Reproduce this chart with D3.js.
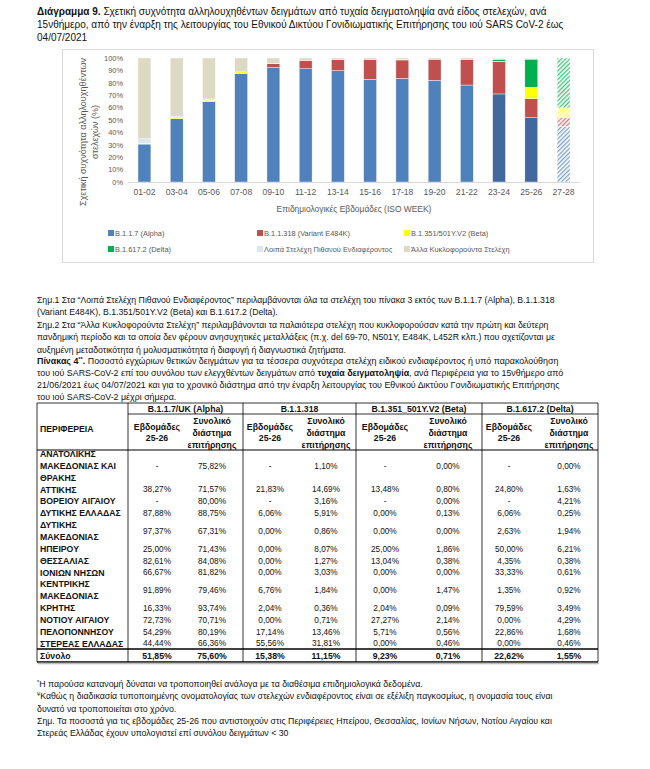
<!DOCTYPE html>
<html><head><meta charset="utf-8">
<script src="https://cdn.jsdelivr.net/npm/d3@7"></script>
<style>body{margin:0;background:#fff}</style>
</head><body>
<svg id="c" width="650" height="769"></svg>
<script>
// ---------------- DATA ----------------
const weeks = ["01-02","03-04","05-06","07-08","09-10","11-12","13-14","15-16","17-18","19-20","21-22","23-24","25-26","27-28"];
const seriesNames = ["B.1.1.7 (Alpha)","B.1.1.318 (Variant E484K)","B.1.351/501Y.V2 (Beta)","B.1.617.2 (Delta)","Λοιπά Στελέχη Πιθανού Ενδιαφέροντος","Άλλα Κυκλοφορούντα Στελέχη"];
const alphaPct = [30.6,51.1,65.0,87.6,92.3,91.4,89.8,82.8,83.6,82.0,78.2,71.0,51.85,45.0];
const e484kPct = [0,0,0,0,3.2,6.5,8.9,16.1,14.8,17.0,20.7,26.1,15.38,7.2];
const betaPct  = [0.6,1.0,1.0,1.2,0,0,0,0,0.5,0,0,0.3,9.23,7.6];
const deltaPct = [0,0,0,0,0,0,0,0,0,0,0,1.6,22.62,40.2];
const otherInterestPct = [3.7,0.5,1.0,0,0.3,0,0,0,0,0,0,0.5,0.5,0];
const otherCirculatingPct = [65.1,47.4,33.0,11.2,4.2,2.1,1.3,1.1,1.1,1.0,1.1,0.5,0.42,0];
const yTicks = [0,10,20,30,40,50,60,70,80,90,100];

const regions = [["ΑΝΑΤΟΛΙΚΗΣ","ΜΑΚΕΔΟΝΙΑΣ ΚΑΙ","ΘΡΑΚΗΣ"],["ΑΤΤΙΚΗΣ"],["ΒΟΡΕΙΟΥ ΑΙΓΑΙΟΥ"],["ΔΥΤΙΚΗΣ ΕΛΛΑΔΑΣ"],["ΔΥΤΙΚΗΣ","ΜΑΚΕΔΟΝΙΑΣ"],["ΗΠΕΙΡΟΥ"],["ΘΕΣΣΑΛΙΑΣ"],["ΙΟΝΙΩΝ ΝΗΣΩΝ"],["ΚΕΝΤΡΙΚΗΣ","ΜΑΚΕΔΟΝΙΑΣ"],["ΚΡΗΤΗΣ"],["ΝΟΤΙΟΥ ΑΙΓΑΙΟΥ"],["ΠΕΛΟΠΟΝΝΗΣΟΥ"],["ΣΤΕΡΕΑΣ ΕΛΛΑΔΑΣ"]];
const totalLabel = "Σύνολο";
const variantHeaders = ["B.1.1.7/UK  (Alpha)","B.1.1.318","B.1.351_501Y.V2 (Beta)","B.1.617.2 (Delta)"];
const alphaWeek = [null,38.27,null,87.88,97.37,25.00,82.61,66.67,91.89,16.33,72.73,54.29,44.44];
const alphaAll  = [75.82,71.57,80.00,88.75,67.31,71.43,84.08,81.82,79.46,93.74,70.71,80.19,66.36];
const e484kWeek = [null,21.83,null,6.06,0.00,0.00,0.00,0.00,6.76,2.04,0.00,17.14,55.56];
const e484kAll  = [1.10,14.69,3.16,5.91,0.86,8.07,1.27,3.03,1.84,0.36,0.71,13.46,31.81];
const betaWeek  = [null,13.48,null,0.00,0.00,25.00,13.04,0.00,0.00,2.04,27.27,5.71,0.00];
const betaAll   = [0.00,0.80,0.00,0.13,0.00,1.86,0.38,0.00,1.47,0.09,2.14,0.56,0.46];
const deltaWeek = [null,24.80,null,6.06,2.63,50.00,4.35,33.33,1.35,79.59,0.00,22.86,0.00];
const deltaAll  = [0.00,1.63,4.21,0.25,1.94,6.21,0.38,0.61,0.92,3.49,4.29,1.68,0.46];
const totalsWeek = [51.85,15.38,9.23,22.62];
const totalsAll  = [75.60,11.15,0.71,1.55];

// ---------------- HELPERS ----------------
const FAM = "'Liberation Sans Narrow','Liberation Sans',Arial,sans-serif";
const ctx = document.createElement("canvas").getContext("2d");
function unitW(t, bold){ ctx.font = (bold?"bold ":"") + "100px " + FAM; return ctx.measureText(t).width/100; }
function fitSize(parts, target){ return target / d3.sum(parts, p => unitW(p.t, p.b) * (p.sup?0.65:1)); }
const svg = d3.select("#c");
svg.append("rect").attr("width",650).attr("height",769).attr("fill","#fff");
const TXT = "#111";

function paragraph(lines, x, y0, lh, size){
  const g = svg.append("g").attr("font-family",FAM).attr("font-size",size).attr("fill",TXT);
  lines.forEach((parts,i) => {
    const t = g.append("text").attr("x",x).attr("y",y0 + i*lh);
    parts.forEach(p => {
      const s = t.append("tspan").text(p.t);
      if (p.b) s.attr("font-weight","bold");
      if (p.sup) s.attr("font-size",size*0.65).attr("dy",-size*0.35);
      if (p.after) s.attr("dy",size*0.35);
    });
  });
}

// ---------------- TITLE ----------------
const titleLines = [
  [{t:"Διάγραμμα 9.",b:true},{t:" Σχετική συχνότητα αλληλουχηθέντων δειγμάτων από τυχαία δειγματοληψία ανά είδος στελεχών, ανά"}],
  [{t:"15νθήμερο, από την έναρξη της λειτουργίας του Εθνικού Δικτύου Γονιδιωματικής Επιτήρησης του ιού SARS CoV-2 έως"}],
  [{t:"04/07/2021"}]
];
paragraph(titleLines, 37, 15, 13, fitSize(titleLines[0], 510));

// ---------------- CHART ----------------
const GRAY = "#595959";
svg.append("rect").attr("x",62.5).attr("y",49.5).attr("width",531).attr("height",213)
  .attr("fill","none").attr("stroke","#d9d9d9");

const colors = ["#4F81BD","#C0504D","#FFFF00","#00B050","#DCE6F2","#DDD9C3"];
const emphasisWeeks = new Set(["23-24","25-26"]);
const provisionalWeek = "27-28";
const darkBlue = "#41699E";

const x = d3.scaleBand().domain(weeks).range([128,580]).paddingInner(0.6).paddingOuter(0.31);
const y = d3.scaleLinear().domain([0,100]).range([182,58]);

const rows = weeks.map((w,i) => ({week:w, s0:alphaPct[i], s1:e484kPct[i], s2:betaPct[i], s3:deltaPct[i], s4:otherInterestPct[i], s5:otherCirculatingPct[i]}));
const keys = ["s0","s1","s2","s3","s4","s5"];
const stacked = d3.stack().keys(keys)(rows);

const defs = svg.append("defs");
colors.forEach((c,i) => {
  const p = defs.append("pattern").attr("id","hatch"+i).attr("patternUnits","userSpaceOnUse")
    .attr("width",3).attr("height",3).attr("patternTransform","rotate(45)");
  p.append("rect").attr("width",3).attr("height",3).attr("fill","#fff");
  p.append("rect").attr("width",1.3).attr("height",3).attr("fill",c).attr("opacity",0.75);
});

const chartFont = fitSize([{t:"Επιδημιολογικές Εβδομάδες (ISO WEEK)"}],155);
const tickFont = fitSize([{t:"100%"}],19);

svg.append("g").selectAll("g").data(stacked).join("g")
  .each(function(layer, li){
    d3.select(this).selectAll("rect").data(layer).join("rect")
      .attr("x", d => x(d.data.week))
      .attr("width", x.bandwidth())
      .attr("y", d => y(d[1]))
      .attr("height", d => Math.max(0, y(d[0]) - y(d[1])))
      .attr("fill", d => d.data.week === provisionalWeek ? `url(#hatch${li})`
          : (li === 0 && emphasisWeeks.has(d.data.week) ? darkBlue : colors[li]))
      .attr("stroke", d => d[1]-d[0] > 0 ? "#fff" : "none").attr("stroke-width",0.4);
  });

// x axis
const xAxis = svg.append("g").attr("transform","translate(0,182)")
  .call(d3.axisBottom(x).tickSize(0).tickPadding(7));
xAxis.select(".domain").attr("stroke","#d9d9d9").attr("d","M128,0.5H580");
xAxis.selectAll("text").attr("fill",GRAY).attr("font-family",FAM).attr("font-size",fitSize([{t:"01-02"}],22));

// y axis
const yAxis = svg.append("g").attr("transform","translate(123,0)")
  .call(d3.axisLeft(y).tickValues(yTicks).tickFormat(d => d + "%").tickSize(0).tickPadding(0));
yAxis.select(".domain").remove();
yAxis.selectAll("text").attr("fill",GRAY).attr("font-family",FAM).attr("font-size",tickFont);

// axis titles
svg.append("text").attr("x",354).attr("y",212).attr("text-anchor","middle")
  .attr("fill",GRAY).attr("font-family",FAM).attr("font-size",chartFont)
  .text("Επιδημιολογικές Εβδομάδες (ISO WEEK)");
const yt = svg.append("text").attr("transform","translate(86,132) rotate(-90)")
  .attr("text-anchor","middle").attr("fill",GRAY).attr("font-family",FAM)
  .attr("font-size",fitSize([{t:"Σχετική συχνότητα αλληλουχηθέντων"}],148));
yt.append("tspan").attr("x",0).attr("y",0).text("Σχετική συχνότητα αλληλουχηθέντων");
yt.append("tspan").attr("x",0).attr("y",12).text("στελεχών (%)");

// legend
const legendPos = [[108,233],[257,233],[404,233],[108,249],[257,249],[404,249]];
const legFont = fitSize([{t:"B.1.1.318 (Variant E484K)"}],86);
const leg = svg.append("g").attr("font-family",FAM).attr("font-size",legFont).attr("fill",GRAY);
seriesNames.forEach((n,i) => {
  const [lx,ly] = legendPos[i];
  leg.append("rect").attr("x",lx).attr("y",ly-3).attr("width",6).attr("height",6).attr("fill",colors[i]);
  leg.append("text").attr("x",lx+7).attr("y",ly).attr("dy","0.35em").text(n);
});

// ---------------- NOTES ----------------
const notes = [
  [{t:"Σημ.1 Στα “Λοιπά Στελέχη Πιθανού Ενδιαφέροντος” περιλαμβάνονται όλα τα στελέχη του πίνακα 3 εκτός των B.1.1.7 (Alpha), B.1.1.318"}],
  [{t:"(Variant E484K), B.1.351/501Y.V2 (Beta) και B.1.617.2 (Delta)."}],
  [{t:"Σημ.2 Στα “Άλλα Κυκλοφορούντα Στελέχη” περιλαμβάνονται τα παλαιότερα στελέχη που κυκλοφορούσαν κατά την πρώτη και δεύτερη"}],
  [{t:"πανδημική περίοδο και τα οποία δεν φέρουν ανησυχητικές μεταλλάξεις (π.χ. del 69-70, N501Y, E484K, L452R κλπ.) που σχετίζονται με"}],
  [{t:"αυξημένη μεταδοτικότητα ή μολυσματικότητα ή διαφυγή ή διαγνωστικά ζητήματα."}]
];
paragraph(notes, 37, 303, 12.4, fitSize(notes[0], 518));

const tableIntro = [
  [{t:"Πίνακας 4",b:true},{t:"**",b:true,sup:true},{t:". ",b:true,after:true},{t:"Ποσοστό εγχώριων θετικών δειγμάτων για τα τέσσερα συχνότερα στελέχη ειδικού ενδιαφέροντος ή υπό παρακολούθηση"}],
  [{t:"του ιού SARS-CoV-2 επί του συνόλου των ελεγχθέντων δειγμάτων από "},{t:"τυχαία δειγματοληψία",b:true},{t:", ανά Περιφέρεια για το 15νθήμερο από"}],
  [{t:"21/06/2021 έως 04/07/2021 και για το χρονικό διάστημα από την έναρξη λειτουργίας του Εθνικού Δικτύου Γονιδιωματικής Επιτήρησης"}],
  [{t:"του ιού SARS-CoV-2 μέχρι σήμερα."}]
];
paragraph(tableIntro, 37, 364, 12, fitSize(tableIntro[0], 522));

// ---------------- TABLE ----------------
const tb = svg.append("g").attr("font-family",FAM).attr("fill",TXT);
const tValFont = fitSize([{t:"75,82%"}],28);
const tBoldFont = fitSize([{t:"ΠΕΛΟΠΟΝΝΗΣΟΥ",b:true}],74);
const T = {left:37, right:598, top:403, r1:414, hdr:450, totTop:649, bottom:662};
const groupX = [128,243,356,482];
const subCenters = [[157,212],[270,326],[385,448],[509,569]];
const fmt = v => v == null ? "-" : v.toFixed(2).replace(".",",") + "%";

// lines
const L = (x1,y1,x2,y2,w) => tb.append("line").attr("x1",x1).attr("y1",y1).attr("x2",x2).attr("y2",y2).attr("stroke","#000").attr("stroke-width",w||0.8);
L(T.left,T.top,T.right,T.top);
L(groupX[0],T.r1,T.right,T.r1);
L(T.left,T.hdr,T.right,T.hdr,1.1);
L(T.left,T.totTop,T.right,T.totTop,1.3);
L(T.left,T.bottom,T.right,T.bottom,1.3);
[T.left, ...groupX, T.right].forEach(gx => L(gx,T.top,gx,T.bottom,0.8));
svg.append("rect").attr("x",T.left+1).attr("y",T.bottom+0.7).attr("width",T.right-T.left).attr("height",1.6).attr("fill","#bbb");

// header
tb.append("text").attr("x",40).attr("y",429).attr("dy","0.35em").attr("font-weight","bold").attr("font-size",tBoldFont).text("ΠΕΡΙΦΕΡΕΙΑ");
variantHeaders.forEach((h,i) => {
  const cx = (groupX[i] + (groupX[i+1] || T.right))/2;
  tb.append("text").attr("x",cx).attr("y",409).attr("dy","0.35em").attr("text-anchor","middle")
    .attr("font-weight","bold").attr("font-size",tBoldFont).text(h);
  const [c1,c2] = subCenters[i];
  [["Εβδομάδες",427],["25-26",438]].forEach(([t,yy]) =>
    tb.append("text").attr("x",c1).attr("y",yy).attr("dy","0.35em").attr("text-anchor","middle").attr("font-weight","bold").attr("font-size",tBoldFont).text(t));
  [["Συνολικό",421],["διάστημα",433],["επιτήρησης",445]].forEach(([t,yy]) =>
    tb.append("text").attr("x",c2).attr("y",yy).attr("dy","0.35em").attr("text-anchor","middle").attr("font-weight","bold").attr("font-size",tBoldFont).text(t));
});

// body rows
const LH = 11.85;
let lineIdx = 0;
const cols = [alphaWeek, alphaAll, e484kWeek, e484kAll, betaWeek, betaAll, deltaWeek, deltaAll];
regions.forEach((nameLines, r) => {
  const ys = nameLines.map((_,k) => 454 + (lineIdx + k) * LH);
  nameLines.forEach((nl,k) => tb.append("text").attr("x",40).attr("y",ys[k]).attr("dy","0.35em")
    .attr("font-weight","bold").attr("font-size",tBoldFont).text(nl));
  const vy = d3.mean(ys);
  const row = tb.append("g").attr("font-size",tValFont);
  row.selectAll("text").data(cols).join("text")
    .attr("x",(c,j) => subCenters[Math.floor(j/2)][j%2]).attr("y",vy).attr("dy","0.35em")
    .attr("text-anchor","middle").text(c => fmt(c[r]));
  lineIdx += nameLines.length;
});
// total row
const totY = 656;
tb.append("text").attr("x",40).attr("y",totY).attr("dy","0.35em").attr("font-weight","bold").attr("font-size",tBoldFont).text(totalLabel);
tb.append("g").attr("font-weight","bold").attr("font-size",tBoldFont).selectAll("text")
  .data(totalsWeek.flatMap((v,i) => [v, totalsAll[i]])).join("text")
  .attr("x",(v,j) => subCenters[Math.floor(j/2)][j%2]).attr("y",totY).attr("dy","0.35em")
  .attr("text-anchor","middle").text(fmt);

// ---------------- FOOTNOTES ----------------
const foot = [
  [{t:"*",sup:true},{t:"Η παρούσα κατανομή δύναται να τροποποιηθεί ανάλογα με τα διαθέσιμα επιδημιολογικά δεδομένα.",after:true}],
  [{t:"¥",sup:true},{t:"Καθώς η διαδικασία τυποποιημένης ονοματολογίας των στελεχών ενδιαφέροντος είναι σε εξέλιξη παγκοσμίως, η ονομασία τους είναι",after:true}],
  [{t:"δυνατό να τροποποιείται στο χρόνο."}],
  [{t:"Σημ. Τα ποσοστά για τις εβδομάδες 25-26 που αντιστοιχούν στις Περιφέρειες Ηπείρου, Θεσσαλίας, Ιονίων Νήσων, Νοτίου Αιγαίου και"}],
  [{t:"Στερεάς Ελλάδας έχουν υπολογιστεί επί συνόλου δειγμάτων < 30"}]
];
paragraph(foot, 37, 687, 12.3, fitSize(foot[1], 516));
</script>
</body></html>
